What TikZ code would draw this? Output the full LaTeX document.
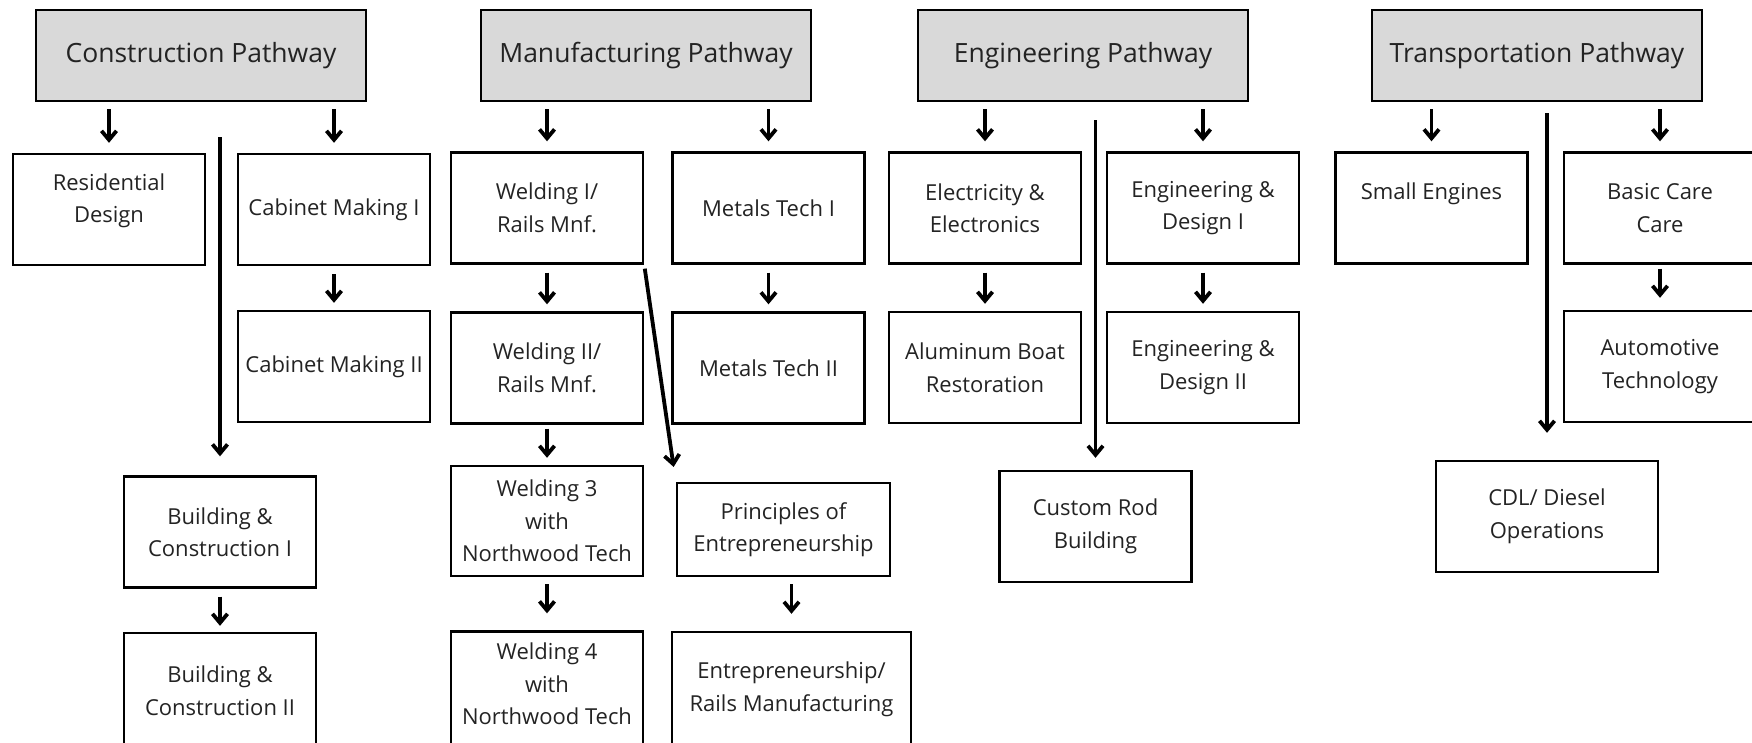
\documentclass[tikz,border=0pt]{standalone}
\usepackage{fontspec}
\setmainfont{Open Sans}
\usepackage{tikz}
\usetikzlibrary{positioning, arrows.meta}
\definecolor{headgray}{RGB}{217,217,217}
\definecolor{inkgray}{RGB}{35,35,35}
\tikzstyle{arrow} = [line width=3.8pt,-{Straight Barb[length=9pt,width=15pt]},shorten <=8pt,shorten >=7pt]
\tikzstyle{longarrow} = [line width=3.8pt,-{Straight Barb[length=9pt,width=15pt]}]

\begin{document}
\begin{tikzpicture}[x=1pt,y=1pt,node distance=158pt,
		pathway/.style={rectangle, draw=black, line width=2.5pt, fill=headgray, minimum width=330pt, minimum height=91pt, inner sep=0pt, text=inkgray, font=\fontsize{26.5}{30}\selectfont},
		course/.style={rectangle, draw=black, line width=2.4pt, minimum width=192pt, minimum height=111pt, inner sep=0pt, align=center, text=inkgray, font=\fontsize{22}{32.5}\selectfont},
		lifted/.style={text depth=#1}]
			
			\useasboundingbox (0,0) rectangle (1752,-742);
			
			% pathway headers
			\node[pathway] (con) at (201,-55.5) {Construction Pathway};
			\node[pathway] (man) at (646,-55.5) {Manufacturing Pathway};
			\node[pathway] (eng) at (1083,-55.5) {Engineering Pathway};
			\node[pathway] (tra) at (1537,-55.5) {Transportation Pathway};
			
			% construction
			\node[course,lifted=23pt] (res) at (109,-209.5) {Residential\\Design};
			\node[course] (cab1) at (334,-209.5) {Cabinet Making I};
			\node[course] (cab2) [below of=cab1, node distance=157pt] {Cabinet Making II};
			\node[course] (bc1) at (220,-532) {Building \&\\Construction I};
			\node[course,minimum height=115pt] (bc2) [below of=bc1, node distance=158.5pt] {Building \&\\Construction II};
			
			% manufacturing
			\node[course] (w1) at (547,-208) {Welding I/\\Rails Mnf.};
			\node[course] (mt1) at (768.5,-208) {Metals Tech I};
			\node[course] (w2) [below of=w1, node distance=160pt] {Welding II/\\Rails Mnf.};
			\node[course] (mt2) [below of=mt1, node distance=160pt] {Metals Tech II};
			\node[course, minimum height=110pt] (w3) [below of=w2, node distance=153pt] {Welding 3\\with\\Northwood Tech};
			\node[course, minimum height=115pt, lifted=10pt] (w4) [below of=w3, node distance=168pt] {Welding 4\\with\\Northwood Tech};
			\node[course, minimum width=213pt, minimum height=93pt] (pe) at (783.5,-529.5) {Principles of\\Entrepreneurship};
			\node[course, minimum width=239pt, minimum height=115pt] (ent) at (791.5,-689.5) {Entrepreneurship/\\Rails Manufacturing};
			
			% engineering
			\node[course] (ee) at (985,-208) {Electricity \&\\Electronics};
			\node[course] (ed1) at (1203,-208) {Engineering \&\\Design I};
			\node[course] (ab) [below of=ee, node distance=159.5pt] {Aluminum Boat\\Restoration};
			\node[course] (ed2) [below of=ed1, node distance=159.5pt] {Engineering \&\\Design II};
			\node[course] (cr) at (1095.5,-526.5) {Custom Rod\\Building};
			
			% transportation
			\node[course,lifted=33pt] (se) at (1431.5,-208) {Small Engines};
			\node[course] (bcc) at (1660,-208) {Basic Care\\Care};
			\node[course] (at) [below of=bcc, node distance=158.5pt] {Automotive\\Technology};
			\node[course, minimum width=222pt] (cdl) at (1547,-516.5) {CDL/ Diesel\\Operations};
			
			% header arrows
			\draw[arrow, shorten <=7pt, shorten >=10pt] (con.south -| res) -- (res);
			\draw[arrow, shorten <=7pt, shorten >=10pt] (con.south -| cab1) -- (cab1);
			\draw[arrow, shorten <=7pt, shorten >=10pt] (man.south -| w1) -- (w1);
			\draw[arrow, shorten <=7pt, shorten >=10pt] (man.south -| mt1) -- (mt1);
			\draw[arrow, shorten <=7pt, shorten >=10pt] (eng.south -| ee) -- (ee);
			\draw[arrow, shorten <=7pt, shorten >=10pt] (eng.south -| ed1) -- (ed1);
			\draw[arrow, shorten <=7pt, shorten >=10pt] (tra.south -| se) -- (se);
			\draw[arrow, shorten <=7pt, shorten >=10pt] (tra.south -| bcc) -- (bcc);
			
			\draw[arrow] (cab1) -- (cab2);
			\draw[arrow, shorten >=6pt] (bc1) -- (bc2);
			\draw[arrow] (w1) -- (w2);
			\draw[arrow] (mt1) -- (mt2);
			\draw[arrow, shorten <=4pt, shorten >=7pt] (w2) -- (w3);
			\draw[arrow, shorten <=7pt, shorten >=17pt] (w3) -- (w4);
			\draw[arrow, shorten <=7pt, shorten >=17pt] (pe.south -| ent.north) -- (ent);
			\draw[arrow] (ee) -- (ab);
			\draw[arrow] (ed1) -- (ed2);
			\draw[arrow, shorten <=4pt, shorten >=12pt] (bcc) -- (at);
			
			% long arrows
			\draw[longarrow, shorten <=35pt, shorten >=19pt] (con.south -| bc1.north) -- (bc1.north);
			\draw[longarrow, shorten <=4pt, shorten >=15pt] (w1.south east) -- (pe.north west);
			\draw[longarrow, shorten <=18pt, shorten >=12pt] (eng.south -| cr.north) -- (cr.north);
			\draw[longarrow, shorten <=11pt, shorten >=27pt] (tra.south -| cdl.north) -- (cdl.north);
			
\end{tikzpicture}
\end{document}
